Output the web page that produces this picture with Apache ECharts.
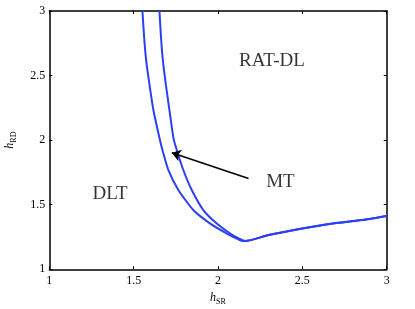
<!DOCTYPE html>
<html><head><meta charset="utf-8">
<script src="https://cdn.jsdelivr.net/npm/echarts@6/dist/echarts.min.js"></script>
<style>html,body{margin:0;padding:0;background:#fff}#c{width:415px;height:309px}</style>
</head><body><div id="c"></div>
<script>
// Curve data (hSR, hRD)
const curveOuterX = [1.552, 1.562, 1.574, 1.595, 1.617, 1.653, 1.671, 1.706, 1.766, 1.855, 1.954, 2.053, 2.132, 2.161, 2.30, 2.50, 2.70, 2.90, 3.00];
const curveOuterY = [3.000, 2.800, 2.620, 2.420, 2.233, 2.016, 1.922, 1.767, 1.612, 1.457, 1.354, 1.277, 1.225, 1.219, 1.265, 1.316, 1.358, 1.390, 1.412];
const curveInnerX = [1.653, 1.662, 1.673, 1.692, 1.712, 1.736, 1.756, 1.795, 1.845, 1.914, 1.993, 2.072, 2.125, 2.161, 2.30, 2.50, 2.70, 2.90, 3.00];
const curveInnerY = [3.000, 2.800, 2.620, 2.420, 2.233, 2.016, 1.922, 1.767, 1.612, 1.457, 1.354, 1.277, 1.238, 1.219, 1.265, 1.316, 1.358, 1.390, 1.412];
// Annotation
const arrowFrom = [2.181, 1.703];
const arrowTo = [1.726, 1.903];
const labelTexts = ['RAT-DL', 'MT', 'DLT'];
const labelX = [2.32, 2.37, 1.36];
const labelY = [2.615, 1.675, 1.585];
const xTicks = [1, 1.5, 2, 2.5, 3];
const yTicks = [1, 1.5, 2, 2.5, 3];

const font = 'Liberation Serif';
const blue = '#2b3ff5';
const chart = echarts.init(document.getElementById('c'));
const zip = (a, b) => a.map((v, i) => [v, b[i]]);
const axisCommon = {
  type: 'value', min: 1, max: 3, interval: 0.5,
  axisLine: { show: true, onZero: false, lineStyle: { color: '#000', width: 1.5 } },
  axisTick: { show: true, inside: true, length: 3, lineStyle: { color: '#000', width: 1 } },
  splitLine: { show: false }
};
chart.setOption({
  animation: false,
  grid: { left: 49.3, right: 28.3, top: 11, bottom: 39.7, containLabel: false, outerBoundsMode: 'none' },
  xAxis: [
    Object.assign({}, axisCommon, {
      position: 'bottom',
      axisLabel: { color: '#000', fontFamily: font, fontSize: 12, margin: 6,
        formatter: v => String(v) },
      name: '{i|h}{s|SR}', nameLocation: 'middle', nameGap: 20,
      nameTextStyle: { rich: {
        i: { fontFamily: font, fontStyle: 'italic', fontSize: 12, color: '#000' },
        s: { fontFamily: font, fontSize: 8, color: '#000', verticalAlign: 'bottom', padding: [8, 0, 0, 0] }
      } }
    }),
    Object.assign({}, axisCommon, { position: 'top', axisLabel: { show: false } })
  ],
  yAxis: [
    Object.assign({}, axisCommon, {
      position: 'left',
      axisLabel: { color: '#000', fontFamily: font, fontSize: 12, margin: 4,
        formatter: v => String(v) },
      name: '{i|h}{s|RD}', nameLocation: 'middle', nameGap: 31, nameRotate: 90,
      nameTextStyle: { rich: {
        i: { fontFamily: font, fontStyle: 'italic', fontSize: 12, color: '#000' },
        s: { fontFamily: font, fontSize: 8, color: '#000', verticalAlign: 'bottom', padding: [8, 0, 0, 0] }
      } }
    }),
    Object.assign({}, axisCommon, { position: 'right', axisLabel: { show: false } })
  ],
  series: [
    { type: 'line', data: zip(curveOuterX, curveOuterY), showSymbol: false, symbol: 'none', smooth: 0.2,
      lineStyle: { color: blue, width: 2 }, z: 3 },
    { type: 'line', data: zip(curveInnerX, curveInnerY), showSymbol: false, symbol: 'none', smooth: 0.2,
      lineStyle: { color: blue, width: 2 }, z: 3 },
    { type: 'lines', coordinateSystem: 'cartesian2d', symbol: ['none', 'arrow'], symbolSize: 9,
      lineStyle: { color: '#000', width: 1.5, opacity: 1 },
      data: [{ coords: [arrowFrom, arrowTo] }], z: 4 },
    { type: 'scatter', symbolSize: 0, data: labelTexts.map((t, i) => ({ value: [labelX[i], labelY[i]], name: t })),
      label: { show: true, position: 'inside', formatter: p => p.name, color: '#000',
        fontFamily: font, fontSize: 19 }, z: 5 }
  ]
});
</script></body></html>
